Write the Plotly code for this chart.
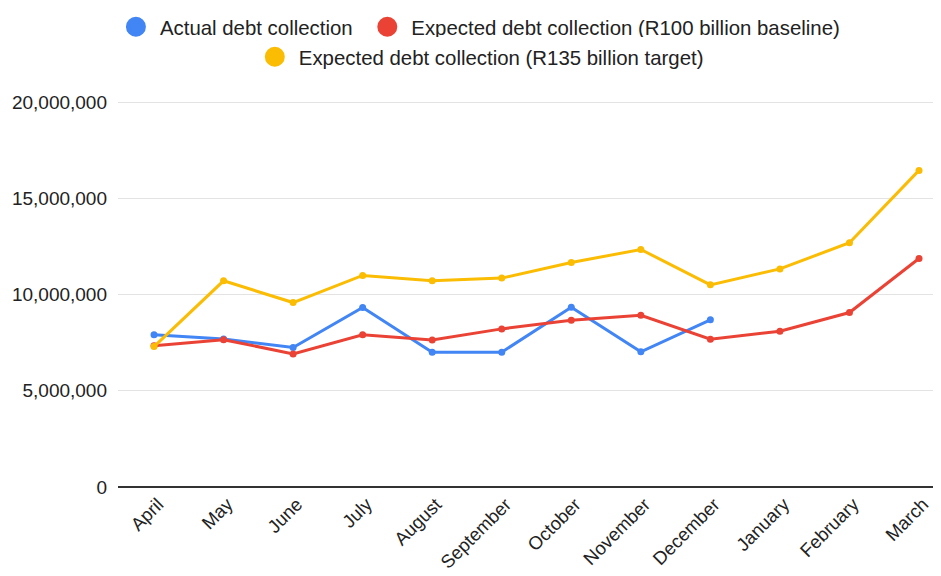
import plotly.graph_objects as go

months = ["April", "May", "June", "July", "August", "September", "October",
          "November", "December", "January", "February", "March"]
actual = [7.91e6, 7.70e6, 7.25e6, 9.33e6, 7.01e6, 7.01e6, 9.35e6, 7.03e6, 8.69e6]
baseline = [7.34e6, 7.66e6, 6.92e6, 7.91e6, 7.64e6, 8.22e6, 8.67e6, 8.93e6,
            7.68e6, 8.10e6, 9.07e6, 11.88e6]
target = [7.30e6, 10.72e6, 9.59e6, 11.0e6, 10.72e6, 10.86e6, 11.67e6, 12.35e6,
          10.51e6, 11.34e6, 12.70e6, 16.46e6]

names = ["Actual debt collection",
         "Expected debt collection (R100 billion baseline)",
         "Expected debt collection (R135 billion target)"]
colors = ["#4285F4", "#EA4335", "#FBBC04"]
series = [actual, baseline, target]
legend_ids = ["legend", "legend", "legend2"]
legend_pad = ["\u00a0", "", ""]

fig = go.Figure()
for name, col, vals in zip(names, colors, series):
    fig.add_trace(go.Scatter(
        x=months[:len(vals)], y=vals, mode="lines+markers", name=name,
        line=dict(color=col, width=3), marker=dict(color=col, size=7),
        showlegend=False, hoverinfo="x+y"))
for name, col, lg, pad in zip(names, colors, legend_ids, legend_pad):
    fig.add_trace(go.Scatter(
        x=[None], y=[None], mode="markers", name=name + pad, legend=lg,
        marker=dict(color=col, size=16, line=dict(color=col, width=4)),
        showlegend=True))

W, H = 933, 568
font_family = "Liberation Sans, Arial, sans-serif"
leg_common = dict(orientation="h", xref="container", xanchor="center",
                  yref="container", yanchor="middle", itemwidth=38,
                  font=dict(size=20.4, color="#222222"),
                  itemsizing="trace", traceorder="normal")
fig.update_layout(
    width=W, height=H,
    margin=dict(l=110, r=3, t=72, b=89, autoexpand=False),
    paper_bgcolor="white", plot_bgcolor="white",
    font=dict(family=font_family, size=18, color="#222222"),
    legend=dict(x=0.5042, y=1 - 19 / H, **leg_common),
    legend2=dict(x=0.5057, y=1 - 49 / H, **leg_common),
    xaxis=dict(type="category", categoryorder="array", categoryarray=months,
               range=[-0.518, 11.273], tickangle=-45, showgrid=False,
               showline=False, ticks="", automargin=False,
               ticklabelshift=4, ticklabelstandoff=2,
               tickfont=dict(size=18.5, color="#222222")),
    yaxis=dict(range=[0, 21.16e6], tickvals=[0, 5e6, 10e6, 15e6, 20e6],
               tickformat=",d", showgrid=True, gridcolor="#E3E3E3", gridwidth=1,
               zeroline=True, zerolinecolor="#333333", zerolinewidth=1.5,
               ticks="", ticklabelstandoff=10, automargin=False,
               tickfont=dict(size=19, color="#222222")),
)
fig.write_html("out.html")
